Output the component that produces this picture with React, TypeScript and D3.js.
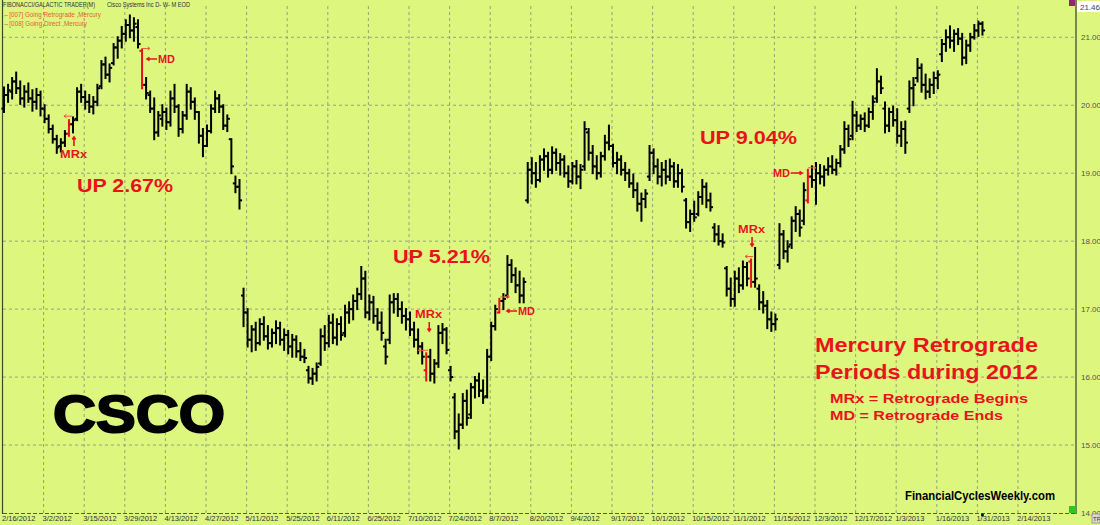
import React from "react";
import * as d3 from "d3";

// OHLC values, one per trading day (2/16/2012 ..)
const opens = [
  19.95, 20.15, 20.20, 20.35, 20.25, 20.10, 20.20, 20.10, 20.05, 20.15,
  19.95, 19.80, 19.65, 19.50, 19.40, 19.45, 19.58, 19.72, 19.80, 20.20,
  20.12, 20.05, 19.98, 20.05, 20.28, 20.60, 20.45, 20.62, 20.85, 20.95,
  21.05, 21.18, 21.10, 21.15, 20.80, 20.30, 20.15, 19.95, 19.60, 19.80,
  19.90, 19.75, 20.10, 19.98, 19.65, 19.85, 20.20, 20.05, 19.90, 19.55,
  19.40, 19.62, 19.95, 20.10, 19.98, 19.70, 19.50, 18.85, 18.80, 17.20,
  16.95, 16.55, 16.70, 16.50, 16.78, 16.60, 16.50, 16.65, 16.72, 16.55,
  16.62, 16.45, 16.55, 16.38, 16.30, 16.10, 15.98, 16.05, 16.20, 16.60,
  16.50, 16.80, 16.58, 16.78, 16.65, 16.95, 17.00, 17.12, 17.22, 17.45,
  16.95, 17.10, 16.90, 16.80, 16.45, 16.55, 17.10, 17.15, 17.00, 16.90,
  16.85, 16.70, 16.55, 16.45, 16.10, 16.30, 16.05, 16.20, 16.65, 16.70,
  16.10, 15.70, 15.20, 15.30, 15.65, 15.45, 15.85, 15.95, 15.80, 15.72,
  16.30, 16.75, 16.95, 17.12, 17.20, 17.65, 17.50, 17.35, 17.20, 18.60,
  19.05, 19.00, 18.90, 19.20, 19.25, 19.05, 19.30, 19.15, 19.20, 19.00,
  18.88, 19.10, 18.95, 19.10, 19.60, 19.30, 19.10, 19.00, 19.25, 19.45,
  19.40, 19.15, 19.20, 19.05, 19.00, 18.85, 18.75, 18.55, 18.62, 18.95,
  19.30, 19.10, 18.95, 19.05, 18.95, 19.10, 18.88, 19.00, 18.60, 18.28,
  18.40, 18.40, 18.65, 18.80, 18.60, 18.20, 18.10, 18.00, 17.60, 17.30,
  17.15, 17.45, 17.35, 17.62, 17.70, 17.40, 17.30, 17.10, 17.05, 16.85,
  16.78, 17.65, 18.10, 17.85, 17.95, 18.30, 18.40, 18.30, 18.60, 18.95,
  18.90, 19.00, 18.95, 19.05, 19.10, 19.05, 19.15, 19.35, 19.65, 19.55,
  19.85, 19.70, 19.80, 19.70, 19.90, 20.10, 20.35, 19.95, 19.70, 19.90,
  19.78, 19.55, 19.65, 19.95, 20.25, 20.40, 20.55, 20.30, 20.20, 20.30,
  20.40, 20.75, 20.90, 21.00, 20.95, 21.05, 20.98, 20.70, 20.88, 21.00,
  21.10, 21.20,
];
const highs = [
  20.26, 20.30, 20.40, 20.48, 20.35, 20.28, 20.32, 20.22, 20.24, 20.20,
  20.00, 19.85, 19.70, 19.55, 19.50, 19.62, 19.78, 19.82, 20.25, 20.30,
  20.20, 20.15, 20.12, 20.30, 20.65, 20.70, 20.60, 20.90, 21.00, 21.15,
  21.25, 21.32, 21.28, 21.25, 20.82, 20.40, 20.20, 20.10, 19.90, 20.00,
  19.95, 20.20, 20.30, 20.00, 19.90, 20.30, 20.25, 20.10, 19.90, 19.65,
  19.70, 20.00, 20.20, 20.15, 20.00, 19.85, 19.50, 18.95, 18.90, 17.30,
  17.00, 16.75, 16.80, 16.85, 16.88, 16.75, 16.70, 16.82, 16.80, 16.70,
  16.68, 16.62, 16.60, 16.50, 16.40, 16.15, 16.12, 16.20, 16.70, 16.75,
  16.90, 16.92, 16.85, 16.88, 17.05, 17.10, 17.20, 17.30, 17.62, 17.55,
  17.20, 17.18, 17.00, 16.95, 16.55, 17.20, 17.22, 17.22, 17.10, 17.00,
  16.95, 16.80, 16.70, 16.50, 16.35, 16.40, 16.25, 16.75, 16.78, 16.72,
  16.15, 15.75, 15.45, 15.75, 15.80, 15.90, 16.00, 16.05, 15.95, 16.40,
  16.80, 17.05, 17.15, 17.22, 17.78, 17.72, 17.60, 17.55, 17.45, 19.15,
  19.22, 19.15, 19.25, 19.35, 19.30, 19.38, 19.35, 19.28, 19.25, 19.10,
  19.15, 19.18, 19.12, 19.75, 19.65, 19.40, 19.25, 19.30, 19.55, 19.70,
  19.42, 19.30, 19.25, 19.15, 19.05, 18.98, 18.85, 18.70, 18.75, 19.40,
  19.35, 19.20, 19.15, 19.18, 19.20, 19.15, 19.12, 19.05, 18.62, 18.45,
  18.58, 18.72, 18.90, 18.85, 18.70, 18.25, 18.22, 18.10, 17.62, 17.45,
  17.55, 17.60, 17.70, 17.68, 17.73, 17.90, 17.35, 17.25, 17.12, 16.95,
  16.92, 18.25, 18.15, 18.00, 18.35, 18.50, 18.45, 18.85, 19.05, 19.10,
  19.15, 19.12, 19.10, 19.22, 19.25, 19.20, 19.40, 19.75, 19.70, 20.05,
  19.90, 19.85, 19.88, 19.95, 20.13, 20.53, 20.42, 20.04, 19.95, 19.98,
  19.94, 19.75, 19.76, 20.35, 20.40, 20.68, 20.60, 20.45, 20.38, 20.48,
  20.50, 20.96, 21.10, 21.16, 21.10, 21.12, 21.05, 20.95, 21.05, 21.18,
  21.23, 21.22,
];
const lows = [
  19.90, 20.05, 20.10, 20.18, 20.02, 19.98, 20.05, 19.92, 19.95, 19.85,
  19.75, 19.60, 19.45, 19.30, 19.32, 19.40, 19.55, 19.60, 19.78, 20.05,
  19.95, 19.90, 19.88, 20.00, 20.25, 20.40, 20.35, 20.60, 20.70, 20.85,
  20.95, 21.00, 20.95, 20.85, 20.25, 20.10, 19.90, 19.50, 19.55, 19.70,
  19.65, 19.70, 19.90, 19.55, 19.60, 19.80, 19.95, 19.80, 19.45, 19.25,
  19.40, 19.60, 19.90, 19.90, 19.65, 19.62, 19.00, 18.72, 18.48, 16.75,
  16.45, 16.38, 16.40, 16.48, 16.55, 16.42, 16.45, 16.50, 16.48, 16.40,
  16.35, 16.30, 16.30, 16.25, 16.22, 15.92, 15.90, 15.95, 16.18, 16.40,
  16.45, 16.50, 16.48, 16.55, 16.60, 16.80, 16.85, 17.00, 17.15, 16.88,
  16.85, 16.80, 16.70, 16.55, 16.20, 16.50, 16.95, 16.90, 16.80, 16.70,
  16.62, 16.45, 16.35, 16.20, 15.95, 15.95, 15.92, 16.15, 16.50, 16.35,
  15.95, 15.10, 14.95, 15.25, 15.30, 15.40, 15.70, 15.72, 15.62, 15.70,
  16.25, 16.70, 16.95, 17.00, 17.18, 17.40, 17.25, 17.10, 17.10, 18.57,
  18.85, 18.80, 18.88, 19.05, 18.95, 19.00, 19.05, 18.98, 18.95, 18.80,
  18.85, 18.85, 18.78, 19.05, 19.20, 19.00, 18.92, 18.95, 19.20, 19.35,
  19.10, 19.00, 18.98, 18.90, 18.80, 18.65, 18.45, 18.30, 18.50, 18.90,
  19.00, 18.85, 18.82, 18.85, 18.90, 18.80, 18.80, 18.73, 18.20, 18.15,
  18.30, 18.38, 18.55, 18.50, 18.45, 18.00, 17.95, 17.92, 17.20, 17.05,
  17.05, 17.25, 17.30, 17.35, 17.33, 17.33, 17.00, 16.95, 16.72, 16.68,
  16.70, 17.60, 17.75, 17.70, 17.90, 18.15, 18.08, 18.25, 18.57, 18.80,
  18.55, 18.85, 18.82, 18.98, 19.00, 18.98, 19.10, 19.30, 19.40, 19.50,
  19.62, 19.65, 19.62, 19.68, 19.80, 20.05, 20.18, 19.60, 19.62, 19.70,
  19.45, 19.40, 19.30, 19.90, 20.00, 20.35, 20.20, 20.10, 20.12, 20.18,
  20.25, 20.65, 20.80, 20.85, 20.80, 20.90, 20.60, 20.62, 20.80, 20.98,
  21.02, 21.04,
];
const closes = [
  20.15, 20.22, 20.35, 20.25, 20.10, 20.20, 20.10, 20.05, 20.15, 19.95,
  19.80, 19.65, 19.50, 19.38, 19.45, 19.58, 19.72, 19.78, 20.20, 20.12,
  20.05, 19.98, 20.05, 20.25, 20.60, 20.45, 20.55, 20.85, 20.95, 21.05,
  21.18, 21.10, 21.20, 20.90, 20.30, 20.18, 19.95, 19.60, 19.85, 19.90,
  19.75, 20.10, 19.98, 19.65, 19.85, 20.20, 20.05, 19.90, 19.55, 19.40,
  19.62, 19.95, 20.10, 19.98, 19.70, 19.80, 19.10, 18.80, 18.60, 16.95,
  16.55, 16.70, 16.50, 16.78, 16.60, 16.50, 16.65, 16.72, 16.55, 16.62,
  16.45, 16.55, 16.38, 16.30, 16.28, 15.98, 16.05, 16.15, 16.60, 16.50,
  16.80, 16.58, 16.78, 16.62, 16.95, 17.00, 17.12, 17.22, 17.45, 16.95,
  17.10, 16.90, 16.80, 16.65, 16.30, 17.10, 17.15, 17.00, 16.90, 16.85,
  16.70, 16.55, 16.45, 16.30, 16.30, 16.05, 16.20, 16.65, 16.70, 16.40,
  16.00, 15.20, 15.30, 15.65, 15.40, 15.85, 15.95, 15.80, 15.70, 16.30,
  16.75, 17.00, 17.12, 17.15, 17.65, 17.50, 17.35, 17.20, 17.40, 19.05,
  19.00, 18.90, 19.20, 19.25, 19.05, 19.30, 19.15, 19.20, 19.00, 18.88,
  19.10, 18.95, 19.05, 19.65, 19.30, 19.10, 19.00, 19.25, 19.45, 19.40,
  19.15, 19.20, 19.05, 19.00, 18.85, 18.75, 18.55, 18.62, 18.70, 19.30,
  19.10, 18.95, 19.05, 18.95, 19.10, 18.88, 19.00, 18.80, 18.28, 18.40,
  18.35, 18.65, 18.80, 18.60, 18.50, 18.10, 18.00, 17.98, 17.30, 17.15,
  17.45, 17.35, 17.62, 17.45, 17.40, 17.45, 17.10, 17.05, 16.85, 16.78,
  16.85, 18.10, 17.85, 17.92, 18.30, 18.40, 18.20, 18.75, 18.95, 18.90,
  19.00, 18.95, 19.05, 19.10, 19.05, 19.15, 19.35, 19.65, 19.50, 19.85,
  19.70, 19.80, 19.70, 19.90, 20.05, 20.35, 20.25, 19.70, 19.90, 19.78,
  19.55, 19.65, 19.45, 20.25, 20.30, 20.55, 20.30, 20.20, 20.30, 20.40,
  20.45, 20.90, 21.00, 20.95, 21.05, 20.98, 20.70, 20.88, 21.00, 21.10,
  21.20, 21.10,
];

// bars marked red (Mercury retrograde / direct turning days)
const retroBars = [16, 34, 104, 122, 184, 198];

// one date label every 10 bars
const dateLabels = [
  "2/16/2012", "3/2/2012", "3/15/2012", "3/29/2012", "4/13/2012", "4/27/2012",
  "5/11/2012", "5/25/2012", "6/11/2012", "6/25/2012", "7/10/2012", "7/24/2012",
  "8/7/2012", "8/20/2012", "9/4/2012", "9/17/2012", "10/1/2012", "10/15/2012",
  "11/1/2012", "11/15/2012", "12/3/2012", "12/17/2012", "1/3/2013", "1/16/2013",
  "1/31/2013", "2/14/2013",
];
const priceTicks = [14, 15, 16, 17, 18, 19, 20, 21];
const topPrice = 21.46;

const RED = "#e8141c";
const MARK = "#e6603c";
const BG = "#dcf67e";
const GRID = "#98a27a";
const FONT = "'Liberation Sans', Arial, sans-serif";

function Arrow({ x1, y1, x2, y2, color, w = 1.6, head = 3 }: any) {
  const a = Math.atan2(y2 - y1, x2 - x1);
  const hx1 = x2 - head * Math.cos(a - 0.6);
  const hy1 = y2 - head * Math.sin(a - 0.6);
  const hx2 = x2 - head * Math.cos(a + 0.6);
  const hy2 = y2 - head * Math.sin(a + 0.6);
  return (
    <path
      d={`M${x1},${y1}L${x2},${y2}M${hx1},${hy1}L${x2},${y2}L${hx2},${hy2}`}
      stroke={color}
      strokeWidth={w}
      fill="none"
    />
  );
}

export default function App() {
  const W = 1100;
  const H = 525;
  const n = closes.length;
  const x = d3.scaleLinear().domain([0, n - 1]).range([4, 4 + 4.06 * (n - 1)]);
  const y = d3.scaleLinear().domain([14, topPrice]).range([513, 6]);
  const axisX = 1076;

  const bars = d3.range(n).map((i) => {
    const cx = x(i);
    const red = retroBars.includes(i);
    const c = red ? RED : "#000";
    return (
      <g key={i} stroke={c} strokeWidth={2}>
        <line x1={cx} x2={cx} y1={y(highs[i]) - 1} y2={y(lows[i]) + 1} />
        <line x1={cx - 2.6} x2={cx} y1={y(opens[i])} y2={y(opens[i])} />
        <line x1={cx} x2={cx + 2.6} y1={y(closes[i])} y2={y(closes[i])} />
      </g>
    );
  });

  return (
    <svg
      width={W}
      height={H}
      style={{ position: "absolute", left: 0, top: 0, display: "block" }}
      fontFamily={FONT}
    >
      <rect x={0} y={0} width={W} height={H} fill={BG} />

      {/* horizontal grid */}
      {priceTicks.slice(1).map((p) => (
        <line key={p} x1={3} x2={axisX} y1={y(p)} y2={y(p)} stroke={GRID} strokeDasharray="3 3" strokeWidth={1} />
      ))}
      {/* vertical grid */}
      {dateLabels.map((d, k) =>
        k === 0 ? null : (
          <line key={d} x1={x(k * 10) - 1} x2={x(k * 10) - 1} y1={6} y2={513} stroke={GRID} strokeDasharray="3 3" strokeWidth={1} />
        )
      )}
      {/* frame */}
      <line x1={2.5} x2={2.5} y1={0} y2={514} stroke="#3a4a2a" strokeWidth={1.2} />
      <line x1={3} x2={axisX} y1={513.5} y2={513.5} stroke="#556040" strokeDasharray="4 2" strokeWidth={1} />
      <line x1={axisX} x2={axisX} y1={0} y2={514} stroke="#4a5a3a" strokeWidth={1.4} />

      {/* right axis labels */}
      {priceTicks.map((p) => (
        <text key={p} x={1081} y={y(p) + 3} fontSize={8} fill="#555">
          {p.toFixed(2)}
        </text>
      ))}
      <rect x={1077} y={1} width={23} height={11} fill="#ffffff" />
      <text x={1080} y={9.5} fontSize={8} fill="#444">{topPrice.toFixed(2)}</text>
      <rect x={1069} y={0} width={6} height={6} fill="#8a2a6a" />
      <rect x={1069} y={506} width={7} height={7} fill="#22cc22" />
      <rect x={1092} y={514} width={8} height={9} fill="#d8d8d8" stroke="#777" strokeWidth={0.6} />
      <text x={1093} y={521} fontSize={6} fill="#333">TF</text>

      {/* date labels */}
      {dateLabels.map((d, k) => (
        <text key={d} x={x(k * 10) - 2} y={521} fontSize={7.5} fill="#333">
          {d}
        </text>
      ))}
      <circle cx={x(n - 1)} cy={515} r={1.5} fill="#000" />

      {/* header */}
      <text x={3} y={7} fontSize={7} fill="#333" textLength={92} lengthAdjust="spacingAndGlyphs">FIBONACCI/GALACTIC TRADER(M)</text>
      <text x={107} y={7} fontSize={7} fill="#333" textLength={83} lengthAdjust="spacingAndGlyphs">Cisco Systems Inc D- W- M EOD</text>
      <text x={3} y={17} fontSize={7.5} fill={MARK} textLength={98} lengthAdjust="spacingAndGlyphs">←[007] Going Retrograde ,Mercury</text>
      <text x={3} y={26} fontSize={7.5} fill={MARK} textLength={84} lengthAdjust="spacingAndGlyphs">→[008] Going Direct ,Mercury</text>

      {/* bars */}
      {bars}

      {/* Mercury markers */}
      {/* MRx 1 */}
      <Arrow x1={x(16) + 3} y1={y(highs[16]) - 4} x2={x(16) - 5} y2={y(highs[16]) - 4} color={MARK} w={1} />
      <Arrow x1={x(16) + 5} y1={146} x2={x(16) + 5} y2={137} color={RED} w={1.6} />
      <text x={60} y={158} fontSize={11} fontWeight="bold" fill={RED} textLength={27} lengthAdjust="spacingAndGlyphs">MRx</text>
      {/* MD 1 */}
      <Arrow x1={x(34)} y1={y(highs[34]) - 1} x2={x(34) + 8} y2={y(highs[34]) - 1} color={MARK} w={1} />
      <Arrow x1={157} y1={59} x2={147} y2={59} color={RED} w={1.6} />
      <text x={158} y={63} fontSize={11} fontWeight="bold" fill={RED} textLength={17} lengthAdjust="spacingAndGlyphs">MD</text>
      {/* MRx 2 */}
      <Arrow x1={x(104) + 2} y1={y(highs[104]) - 3} x2={x(104) - 8} y2={y(highs[104]) - 3} color={MARK} w={1} />
      <Arrow x1={x(104) + 3} y1={322} x2={x(104) + 3} y2={331} color={RED} w={1.6} />
      <text x={415} y={318} fontSize={11} fontWeight="bold" fill={RED} textLength={27} lengthAdjust="spacingAndGlyphs">MRx</text>
      {/* MD 2 */}
      <Arrow x1={x(122) + 1} y1={y(highs[122]) - 2} x2={x(122) + 10} y2={y(highs[122]) - 2} color={MARK} w={1} />
      <Arrow x1={517} y1={311} x2={507} y2={311} color={RED} w={1.6} />
      <text x={518} y={315} fontSize={11} fontWeight="bold" fill={RED} textLength={17} lengthAdjust="spacingAndGlyphs">MD</text>
      {/* MRx 3 */}
      <Arrow x1={x(184) + 2} y1={y(highs[184]) - 3} x2={x(184) - 6} y2={y(highs[184]) - 3} color={MARK} w={1} />
      <Arrow x1={x(184) + 1} y1={237} x2={x(184) + 1} y2={246} color={RED} w={1.6} />
      <text x={738} y={233} fontSize={11} fontWeight="bold" fill={RED} textLength={27} lengthAdjust="spacingAndGlyphs">MRx</text>
      {/* MD 3 */}
      <Arrow x1={x(198)} y1={y(highs[198]) - 2} x2={x(198) + 8} y2={y(highs[198]) - 2} color={MARK} w={1} />
      <text x={773} y={177} fontSize={11} fontWeight="bold" fill={RED} textLength={17} lengthAdjust="spacingAndGlyphs">MD</text>
      <Arrow x1={791} y1={173} x2={802} y2={173} color={RED} w={1.6} />

      {/* UP labels */}
      <text x={77} y={192} fontSize={19} fontWeight="bold" fill={RED} textLength={96} lengthAdjust="spacingAndGlyphs">UP 2.67%</text>
      <text x={393} y={263} fontSize={19} fontWeight="bold" fill={RED} textLength={97} lengthAdjust="spacingAndGlyphs">UP 5.21%</text>
      <text x={700} y={144} fontSize={19} fontWeight="bold" fill={RED} textLength={97} lengthAdjust="spacingAndGlyphs">UP 9.04%</text>

      {/* CSCO */}
      <text x={53} y={432} fontSize={52} fontWeight="bold" fill="#000" stroke="#000" strokeWidth={2} textLength={172} lengthAdjust="spacingAndGlyphs">CSCO</text>

      {/* legend text block */}
      <text x={815} y={352} fontSize={21} fontWeight="bold" fill={RED} textLength={223} lengthAdjust="spacingAndGlyphs">Mercury Retrograde</text>
      <text x={815} y={379} fontSize={21} fontWeight="bold" fill={RED} textLength={223} lengthAdjust="spacingAndGlyphs">Periods during 2012</text>
      <text x={830} y={403} fontSize={13.5} fontWeight="bold" fill={RED} textLength={198} lengthAdjust="spacingAndGlyphs">MRx = Retrograde Begins</text>
      <text x={830} y={420} fontSize={13.5} fontWeight="bold" fill={RED} textLength={173} lengthAdjust="spacingAndGlyphs">MD = Retrograde Ends</text>

      <text x={905} y={500} fontSize={12} fontWeight="bold" fill="#000" textLength={150} lengthAdjust="spacingAndGlyphs">FinancialCyclesWeekly.com</text>
    </svg>
  );
}
